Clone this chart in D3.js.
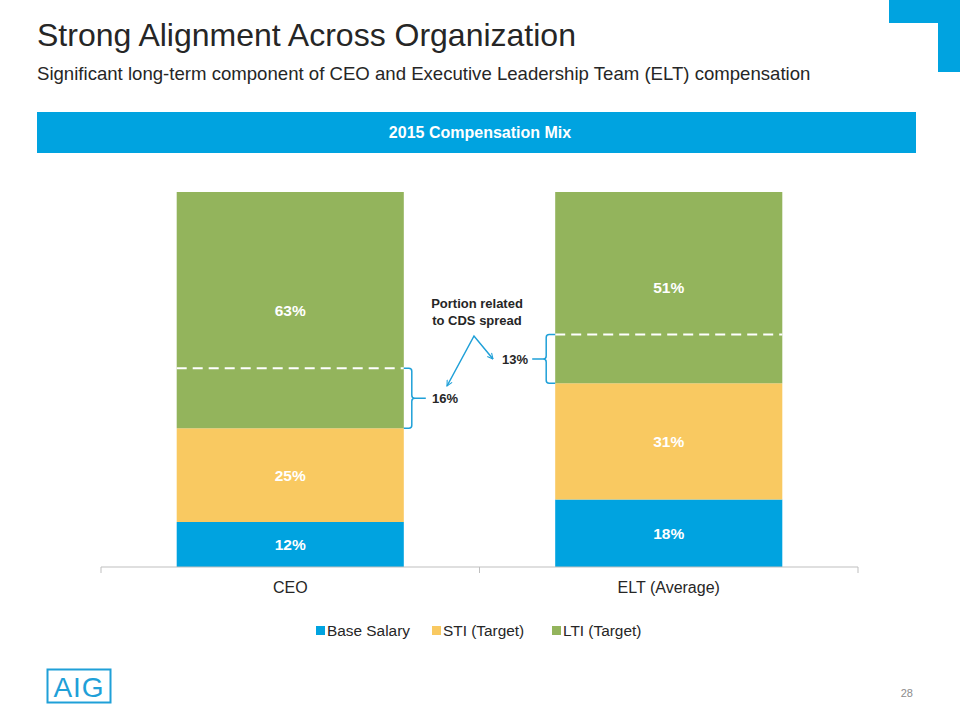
<!DOCTYPE html>
<html>
<head>
<meta charset="utf-8">
<script src="https://cdn.jsdelivr.net/npm/d3@7/dist/d3.min.js"></script>
<style>
  html, body { margin: 0; padding: 0; background: #fff; }
  svg { display: block; font-family: "Liberation Sans", Arial, sans-serif; }
</style>
</head>
<body>
<svg id="chart" width="960" height="720"></svg>
<script>
// ---- Data ----
const categories = ["CEO", "ELT (Average)"];
const seriesNames = ["Base Salary", "STI (Target)", "LTI (Target)"];
const baseSalary = [12, 18];
const stiTarget = [25, 31];
const ltiTarget = [63, 51];
const cdsPortion = [16, 13];   // portion of LTI related to CDS spread
const colors = ["#00A3E0", "#F9C961", "#93B45C"];

const svg = d3.select("#chart");

// ---- Header ----
svg.append("text").attr("x", 37).attr("y", 46)
  .attr("font-size", 32).attr("fill", "#262626")
  .text("Strong Alignment Across Organization");
svg.append("text").attr("x", 37).attr("y", 80)
  .attr("font-size", 18.6).attr("fill", "#262626")
  .text("Significant long-term component of CEO and Executive Leadership Team (ELT) compensation");

// top-right corner mark
svg.append("rect").attr("x", 889).attr("y", 0).attr("width", 71).attr("height", 23).attr("fill", "#00A3E0");
svg.append("rect").attr("x", 938).attr("y", 0).attr("width", 22).attr("height", 72).attr("fill", "#00A3E0");

// band
svg.append("rect").attr("x", 37).attr("y", 112).attr("width", 879).attr("height", 41).attr("fill", "#00A3E0");
svg.append("text").attr("x", 480).attr("y", 138).attr("text-anchor", "middle")
  .attr("font-size", 16).attr("font-weight", "bold").attr("fill", "#fff")
  .text("2015 Compensation Mix");

// ---- Chart ----
const x = d3.scaleBand().domain(categories).range([101, 858]).paddingInner(0.4).paddingOuter(0.2);
const y = d3.scaleLinear().domain([0, 100]).range([567, 192]);

const table = categories.map((c, i) => ({ cat: c, "Base Salary": baseSalary[i], "STI (Target)": stiTarget[i], "LTI (Target)": ltiTarget[i] }));
const stacked = d3.stack().keys(seriesNames)(table);

const g = svg.append("g");
stacked.forEach((layer, li) => {
  g.selectAll(null).data(layer).enter().append("rect")
    .attr("x", d => x(d.data.cat))
    .attr("width", x.bandwidth())
    .attr("y", d => y(d[1]))
    .attr("height", d => y(d[0]) - y(d[1]))
    .attr("fill", colors[li]);
  g.selectAll(null).data(layer).enter().append("text")
    .attr("x", d => x(d.data.cat) + x.bandwidth() / 2)
    .attr("y", d => (y(d[0]) + y(d[1])) / 2 + 5.5)
    .attr("text-anchor", "middle")
    .attr("font-size", 15.5).attr("font-weight", "bold").attr("fill", "#fff")
    .text(d => (d[1] - d[0]) + "%");
});

// dashed lines for CDS portion
categories.forEach((c, i) => {
  const base = baseSalary[i] + stiTarget[i];
  const yy = y(base + cdsPortion[i]);
  g.append("line")
    .attr("x1", x(c)).attr("x2", x(c) + x.bandwidth())
    .attr("y1", yy).attr("y2", yy)
    .attr("stroke", "#fff").attr("stroke-width", 2).attr("stroke-dasharray", "10,6");
});

// axis
const ax = svg.append("g").attr("transform", "translate(0,567)");
ax.append("line").attr("x1", 101).attr("x2", 858).attr("y1", 0).attr("y2", 0).attr("stroke", "#bfbfbf").attr("stroke-width", 1);
[101, 479.5, 858].forEach(px => ax.append("line").attr("x1", px).attr("x2", px).attr("y1", 0).attr("y2", 6).attr("stroke", "#bfbfbf"));
categories.forEach(c => {
  svg.append("text").attr("x", x(c) + x.bandwidth() / 2).attr("y", 593)
    .attr("text-anchor", "middle").attr("font-size", 16).attr("fill", "#262626").text(c);
});

// brackets
const bc = "#1FA0D8";
function bracket(dir, xEdge, xSpine, yTop, yBot, tickLen) {
  const r = 3;
  const ym = (yTop + yBot) / 2;
  const p = d3.path();
  p.moveTo(xEdge, yTop);
  p.lineTo(xSpine - dir * r, yTop);
  p.quadraticCurveTo(xSpine, yTop, xSpine, yTop + r);
  p.lineTo(xSpine, ym - r);
  p.quadraticCurveTo(xSpine, ym, xSpine + dir * r, ym);
  p.lineTo(xSpine + dir * tickLen, ym);
  p.moveTo(xSpine + dir * r, ym);
  p.quadraticCurveTo(xSpine, ym, xSpine, ym + r);
  p.lineTo(xSpine, yBot - r);
  p.quadraticCurveTo(xSpine, yBot, xSpine - dir * r, yBot);
  p.lineTo(xEdge, yBot);
  svg.append("path").attr("d", p.toString()).attr("fill", "none").attr("stroke", bc).attr("stroke-width", 1.5);
  return ym;
}
const c0 = categories[0], c1 = categories[1];
const ceoTop = y(baseSalary[0] + stiTarget[0] + cdsPortion[0]), ceoBot = y(baseSalary[0] + stiTarget[0]);
const ym0 = bracket(1, x(c0) + x.bandwidth(), x(c0) + x.bandwidth() + 8, ceoTop, ceoBot, 14);
svg.append("text").attr("x", 432).attr("y", ym0 + 5).attr("font-size", 13).attr("font-weight", "bold").attr("fill", "#262626").text(cdsPortion[0] + "%");
const eltTop = y(baseSalary[1] + stiTarget[1] + cdsPortion[1]), eltBot = y(baseSalary[1] + stiTarget[1]);
const ym1 = bracket(-1, x(c1), x(c1) - 9, eltTop, eltBot, 14);
svg.append("text").attr("x", 528).attr("y", ym1 + 5).attr("text-anchor", "end").attr("font-size", 13).attr("font-weight", "bold").attr("fill", "#262626").text(cdsPortion[1] + "%");

// annotation
svg.append("text").attr("x", 477).attr("y", 308).attr("text-anchor", "middle").attr("font-size", 13).attr("font-weight", "bold").attr("fill", "#262626").text("Portion related");
svg.append("text").attr("x", 477).attr("y", 325).attr("text-anchor", "middle").attr("font-size", 13).attr("font-weight", "bold").attr("fill", "#262626").text("to CDS spread");
const defs = svg.append("defs");
defs.append("marker").attr("id", "ah").attr("viewBox", "0 0 10 10").attr("refX", 9).attr("refY", 5)
  .attr("markerWidth", 7).attr("markerHeight", 7).attr("orient", "auto-start-reverse").attr("markerUnits", "userSpaceOnUse")
  .append("path").attr("d", "M1,1 L9,5 L1,9").attr("fill", "none").attr("stroke", bc).attr("stroke-width", 1.5);
svg.append("path").attr("d", "M447,386 L474,336 L493,359").attr("fill", "none").attr("stroke", bc).attr("stroke-width", 1.5)
  .attr("marker-start", "url(#ah)").attr("marker-end", "url(#ah)");

// legend
const legendX = [316, 432, 552];
seriesNames.forEach((s, i) => {
  svg.append("rect").attr("x", legendX[i]).attr("y", 626).attr("width", 9).attr("height", 9).attr("fill", colors[i]);
  svg.append("text").attr("x", legendX[i] + 11).attr("y", 636).attr("font-size", 15.4).attr("fill", "#262626").text(s);
});

// AIG logo
svg.append("rect").attr("x", 47.5).attr("y", 669.5).attr("width", 63).attr("height", 33).attr("fill", "none").attr("stroke", "#1FA0D8").attr("stroke-width", 2);
svg.append("text").attr("x", 79).attr("y", 697).attr("text-anchor", "middle").attr("font-size", 28).attr("fill", "#1FA0D8").attr("letter-spacing", 1).text("AIG");

// page number
svg.append("text").attr("x", 913).attr("y", 697).attr("text-anchor", "end").attr("font-size", 11).attr("fill", "#8c8c8c").text("28");
</script>
</body>
</html>
